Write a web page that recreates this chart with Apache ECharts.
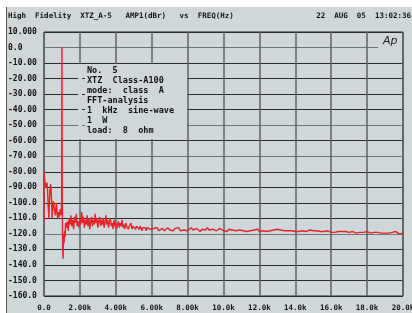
<!DOCTYPE html>
<html>
<head>
<meta charset="utf-8">
<script src="https://cdn.jsdelivr.net/npm/echarts@6/dist/echarts.min.js"></script>
<style>
    html, body {margin: 0; padding: 0; background: #ffffff;}
    #paper {position: absolute; left: 6px; top: 7px; width: 406px; height: 306px; background: #cfd7db; border-left: 1px solid #555;}
    #chart_id {position: absolute; left: 0; top: 0; width: 412px; height: 313px;}
</style>
</head>
<body>
<div id="paper"></div>
<div id="chart_id"></div>
<script>
//刻度标签
var xTickLabels = ["0.0", "2.00k", "4.00k", "6.00k", "8.00k", "10.0k", "12.0k", "14.0k", "16.0k", "18.0k", "20.0k"];
var yTickLabels = ["-160.0", "-150.0", "-140.0", "-130.0", "-120.0", "-110.0", "-100.0", "-90.00", "-80.00",
    "-70.00", "-60.00", "-50.00", "-40.00", "-30.00", "-20.00", "-10.00", "0.0", "10.000"];

//低频段 (Hz / dBr)
var lowFreq = [0, 10, 40, 80, 120, 160, 200, 240, 270, 300, 330, 360, 390, 420, 450, 480, 520, 560, 600,
    640, 680, 720, 760, 800, 850, 900, 950, 985, 1000, 1015, 1040, 1060, 1080, 1100, 1120, 1150, 1180, 1200];
var lowLevel = [-112, -80, -86, -88, -90, -87, -92, -104, -110, -100, -92, -88, -90, -98, -110, -104, -99, -98, -106,
    -108, -100, -104, -110, -106, -109, -104, -108, -100, 0, -90, -130, -136, -128, -120, -126, -118, -122, -113];

//中频段 1250Hz 起, 步长 50Hz
var midStart = 1250, midStep = 50;
var midLevel = [-116, -112, -118, -110, -114, -108, -115, -111, -117, -109, -113, -107, -115, -112, -116, -110,
    -114, -106, -113, -109, -116, -111, -114, -108, -115, -110, -117, -112, -109, -115, -111, -114, -107, -113,
    -110, -116, -112, -109, -115, -111, -114, -110, -116, -112, -108, -114, -111, -116, -112, -110, -115, -113,
    -117, -111, -115, -113, -117, -114, -112, -116, -113, -115, -111, -116, -114, -117, -113, -115, -114, -117,
    -115, -116, -113, -117, -115, -116, -114, -117, -115, -116, -114, -117, -115, -116, -118, -116, -115, -117,
    -116, -118, -116, -117, -115, -117, -116, -117];

//高频段 6100Hz 起, 步长 100Hz
var highStart = 6100, highStep = 100;
var highLevel = [
    -116.5, -117.5, -116, -118, -117, -116.5, -118, -117, -116, -117.5,
    -117, -118, -116.5, -117.5, -116, -118, -117, -117.5, -116.5, -118,
    -117, -116, -117.5, -118, -116.5, -117, -118.5, -117, -116.5, -117.5,
    -116, -117.5, -118, -117, -116.5, -118, -117.5, -116.5, -117, -118,
    -117.5, -118.5, -117, -118, -117.5, -116.5, -118, -118.5, -117.5, -118,
    -118, -117, -118.5, -117.5, -118, -118.5, -117.5, -118, -117, -118.5,
    -117.5, -118, -117, -118.5, -117.5, -118, -118.5, -117.5, -118, -117,
    -118, -117.5, -118.5, -118, -117.5, -118, -119, -118, -117.5, -118.5,
    -118, -118.5, -117.5, -118, -119, -118.5, -118, -117.5, -118.5, -118,
    -118.5, -118, -119, -118.5, -118, -118.5, -119, -118, -118.5, -119,
    -118.5, -119, -118, -118.5, -119, -118.5, -119.5, -118.5, -118, -119,
    -119, -118.5, -119, -119.5, -118.5, -119, -118, -119, -119.5, -118.5,
    -119, -119.5, -118.5, -119, -119.5, -119, -118.5, -119.5, -119, -119.5,
    -119, -119.5, -120, -119, -119.5, -118.5, -119.5, -120, -119, -119.5];

var headerLeft = "High  Fidelity  XTZ_A-5   AMP1(dBr)   vs  FREQ(Hz)";
var headerRight = "22  AUG  05  13:02:36";
var noteLines = ["No.  5", "XTZ  Class-A100", "mode:  class  A", "FFT-analysis", "1  kHz  sine-wave", "1  W", "load:  8  ohm"];

initChart();

function initChart() {
    var myChart = echarts.init(document.getElementById("chart_id"));
    var datas = [];
    for (var i = 0; i < lowFreq.length; i++) {
        datas.push([lowFreq[i], lowLevel[i]]);
    }
    for (var j = 0; j < midLevel.length; j++) {
        datas.push([midStart + j * midStep, midLevel[j]]);
    }
    for (var k = 0; k < highLevel.length; k++) {
        datas.push([highStart + k * highStep, highLevel[k]]);
    }
    var font = "'DejaVu Sans Mono', monospace";
    var dark = "#2a2a2a", gray = "#6f7579";
    //横向网格线颜色 (-160 ~ 10)
    var hColors = [dark, dark, dark, dark, gray, dark, dark, dark, dark, gray, dark, gray, dark, dark, dark, dark, gray, dark];

    var graphics = [
        {type: "text", left: 8, top: 12, z: 100, style: {text: headerLeft, font: "bold 7.5px " + font, fill: "#111"}},
        {type: "text", right: 1, top: 12, z: 100, style: {text: headerRight, font: "bold 7.5px " + font, fill: "#111"}},
        {type: "rect", z: 100, shape: {x: 78, y: 64, width: 4, height: 75}, style: {fill: "#cfd7db"}},
        {type: "rect", z: 100, shape: {x: 85, y: 64, width: 102, height: 75}, style: {fill: "#cfd7db"}},
        {type: "rect", z: 100, shape: {x: 378, y: 34, width: 24, height: 18}, style: {fill: "#cfd7db"}},
        {type: "text", left: 383, top: 36, z: 101, style: {text: "Ap", font: "italic 11px 'DejaVu Sans', sans-serif", fill: "#222"}}
    ];
    for (var n = 0; n < noteLines.length; n++) {
        graphics.push({
            type: "text", left: 87, top: 66 + n * 10.1, z: 101,
            style: {text: noteLines[n], font: "bold 8.5px " + font, fill: "#111"}
        });
    }

    var option = {
        animation: false,
        backgroundColor: "transparent",
        grid: {
            left: 44, right: 9, top: 32, bottom: 17,
            containLabel: false, outerBoundsMode: "none",
            show: true, borderColor: "#222", borderWidth: 1
        },
        xAxis: {
            type: "value", min: 0, max: 20000, interval: 2000,
            axisLine: {show: false}, axisTick: {show: false},
            axisLabel: {
                margin: 8, color: "#111", fontFamily: "DejaVu Sans Mono", fontWeight: "bold", fontSize: 7.5,
                formatter: function (v) { return xTickLabels[Math.round(v / 2000)]; }
            },
            splitLine: {show: true, lineStyle: {color: "#5c6266", width: 1.5}}
        },
        yAxis: {
            type: "value", min: -160, max: 10, interval: 10,
            axisLine: {show: false}, axisTick: {show: false},
            axisLabel: {
                align: "left", margin: 36, color: "#111", fontFamily: "DejaVu Sans Mono", fontWeight: "bold", fontSize: 8,
                formatter: function (v) { return yTickLabels[Math.round((v + 160) / 10)]; }
            },
            splitLine: {show: true, lineStyle: {color: hColors, width: 1.2}}
        },
        graphic: graphics,
        series: [{
            type: "line",
            data: datas,
            showSymbol: false,
            z: 3,
            lineStyle: {color: "#e8222a", width: 1.4}
        }]
    };
    myChart.setOption(option, true);
}
</script>
</body>
</html>
